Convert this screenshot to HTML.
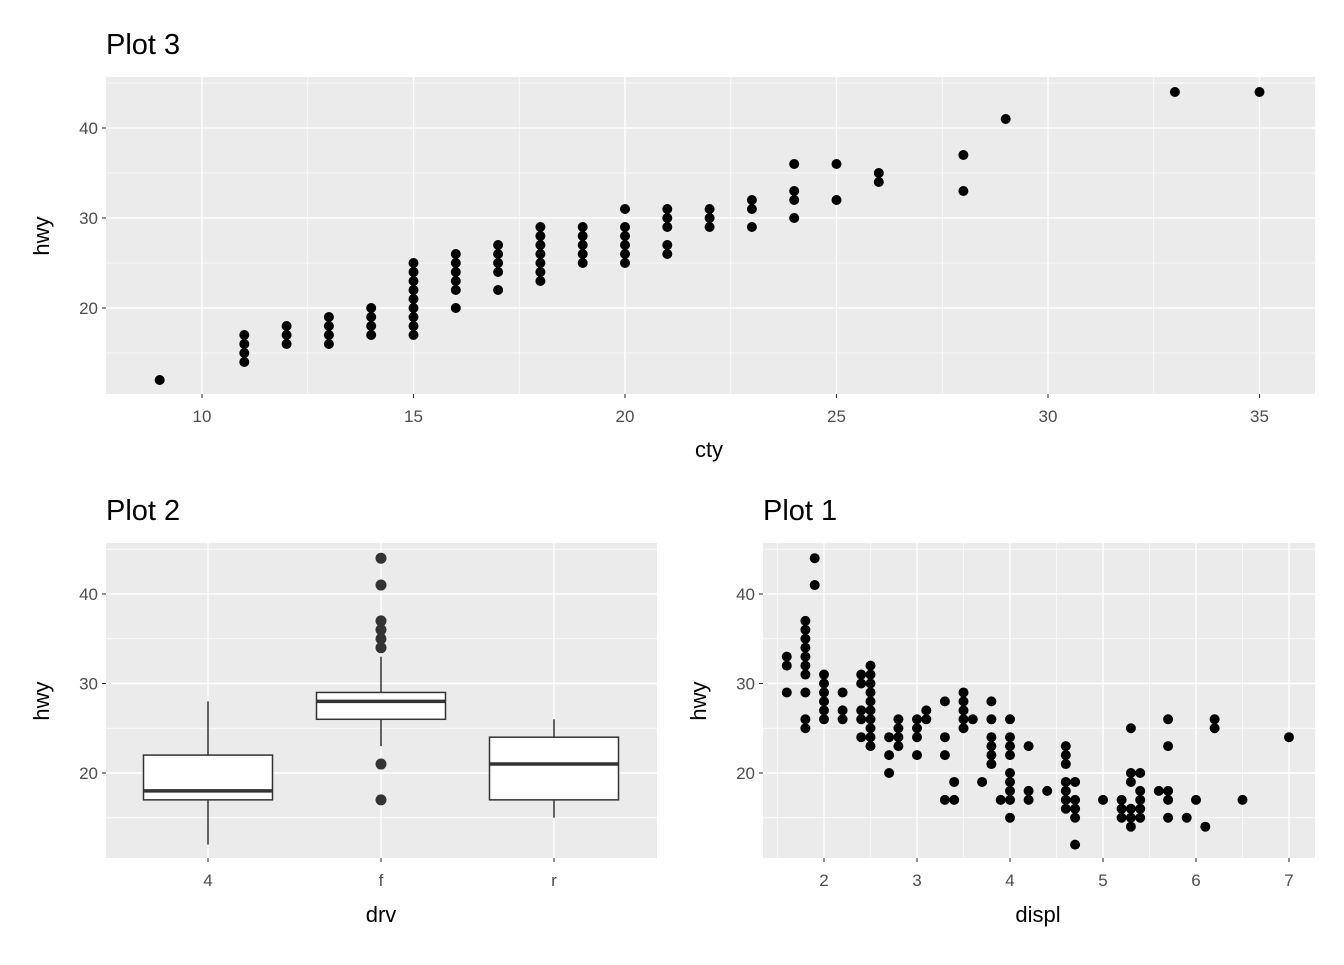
<!DOCTYPE html>
<html><head><meta charset="utf-8"><style>
body{margin:0;background:#fff;font-family:"Liberation Sans",sans-serif}
svg text{font-family:"Liberation Sans",sans-serif}
</style></head><body>
<svg id="s" width="1344" height="960"></svg>
<script>
// Plot 3 data: cty vs hwy
const p3Cty = [9,11,11,11,11,12,12,12,13,13,13,13,14,14,14,14,15,15,15,15,15,15,15,15,15,16,16,16,16,16,16,17,17,17,17,17,18,18,18,18,18,18,18,19,19,19,19,19,20,20,20,20,20,20,21,21,21,21,21,22,22,22,23,23,23,24,24,24,24,25,25,26,26,28,28,29,33,35];
const p3Hwy = [12,14,15,16,17,16,17,18,16,17,18,19,17,18,19,20,17,18,19,20,21,22,23,24,25,20,22,23,24,25,26,22,24,25,26,27,23,24,25,26,27,28,29,25,26,27,28,29,25,26,27,28,29,31,26,27,29,30,31,29,30,31,29,31,32,30,32,33,36,32,36,34,35,33,37,41,44,44];
// Plot 1 data: displ vs hwy
const p1Displ = [1.6,1.6,1.6,1.8,1.8,1.8,1.8,1.8,1.8,1.8,1.8,1.8,1.8,1.9,1.9,2,2,2,2,2,2,2.2,2.2,2.2,2.4,2.4,2.4,2.4,2.4,2.5,2.5,2.5,2.5,2.5,2.5,2.5,2.5,2.5,2.5,2.7,2.7,2.7,2.8,2.8,2.8,2.8,3,3,3,3,3.1,3.1,3.3,3.3,3.3,3.3,3.4,3.4,3.5,3.5,3.5,3.5,3.5,3.6,3.7,3.8,3.8,3.8,3.8,3.8,3.8,3.9,4,4,4,4,4,4,4,4,4,4.2,4.2,4.2,4.4,4.6,4.6,4.6,4.6,4.6,4.6,4.6,4.7,4.7,4.7,4.7,4.7,5,5.2,5.2,5.2,5.3,5.3,5.3,5.3,5.3,5.3,5.4,5.4,5.4,5.4,5.4,5.6,5.7,5.7,5.7,5.7,5.7,5.9,6,6.1,6.2,6.2,6.5,7];
const p1Hwy = [29,32,33,25,26,29,31,32,33,34,35,36,37,41,44,26,27,28,29,30,31,26,27,29,24,26,27,30,31,23,24,25,26,27,28,29,30,31,32,20,22,24,23,24,25,26,22,24,25,26,26,27,17,22,24,28,17,19,25,26,27,28,29,26,19,21,22,23,24,26,28,17,15,17,18,19,20,22,23,24,26,17,18,23,18,16,17,18,19,21,22,23,12,15,16,17,19,17,15,16,17,14,15,16,19,20,25,15,16,17,18,20,18,15,17,18,23,26,15,17,14,25,26,17,24];
// Plot 2 boxplot data
const drvCats = ['4','f','r'];
const boxLow = [12,23,15], boxQ1 = [17,26,17], boxMed = [18,28,21], boxQ3 = [22,29,24], boxHigh = [28,33,26];
const fOutliers = [44,41,37,36,35,34,21,17];

const S=document.getElementById('s'),NS='http://www.w3.org/2000/svg';
function el(t,a,p){const e=document.createElementNS(NS,t);for(const k in a)e.setAttribute(k,a[k]);(p||S).appendChild(e);return e;}
function txt(x,y,s,sz,fill,anchor,p,rot){const e=el('text',{x:x,y:y,'font-size':sz,fill:fill,'text-anchor':anchor||'middle'},p);if(rot)e.setAttribute('transform',`rotate(-90 ${x} ${y})`);e.textContent=s;return e;}

function panel(name,x0,x1,y0,y1){
  const g=el('g',{});
  el('rect',{x:x0,y:y0,width:x1-x0,height:y1-y0,fill:'#EBEBEB'},g);return g;
}
const yTop=v=>308-(v-20)*9.0;
const yBot=v=>773-(v-20)*8.95;

function yAxis(g,ys,x0,x1,ticks,minor){
  minor.forEach(v=>el('line',{x1:x0,x2:x1,y1:ys(v),y2:ys(v),stroke:'#fff','stroke-width':0.7},g));
  ticks.forEach(v=>{el('line',{x1:x0,x2:x1,y1:ys(v),y2:ys(v),stroke:'#fff','stroke-width':1.4},g);
    el('line',{x1:x0-4,x2:x0,y1:ys(v),y2:ys(v),stroke:'#333','stroke-width':1.1});
    txt(x0-8,ys(v)+6,String(v),17,'#4D4D4D','end');});
}
function xAxis(g,xs,y0,y1,ticks,labels,minor){
  minor.forEach(v=>el('line',{x1:xs(v),x2:xs(v),y1:y0,y2:y1,stroke:'#fff','stroke-width':0.7},g));
  ticks.forEach((v,i)=>{el('line',{x1:xs(v),x2:xs(v),y1:y0,y2:y1,stroke:'#fff','stroke-width':1.4},g);
    el('line',{x1:xs(v),x2:xs(v),y1:y1,y2:y1+4,stroke:'#333','stroke-width':1.1});
    txt(xs(v),y1+28,labels[i],17,'#4D4D4D');});
}

// Plot 3
{const xs=v=>202+(v-10)*42.3;
 const g=panel('plot3-panel',106,1315,77,394);
 yAxis(g,yTop,106,1315,[20,30,40],[15,25,35,45]);
 xAxis(g,xs,77,394,[10,15,20,25,30,35],['10','15','20','25','30','35'],[12.5,17.5,22.5,27.5,32.5]);
 p3Cty.forEach((c,i)=>{const d=el('circle',{cx:xs(c),cy:yTop(p3Hwy[i]),r:5,fill:'#000'});
 
 });
 txt(106,54,'Plot 3',29,'#000','start');
 txt(709,457,'cty',22,'#000');
 txt(49,236,'hwy',22,'#000','middle',null,true);
}
// Plot 2
{const xs=i=>208+i*173;
 const g=panel('plot2-panel',106,657,543,858);
 yAxis(g,yBot,106,657,[20,30,40],[15,25,35,45]);
 xAxis(g,xs,543,858,[0,1,2],drvCats,[]);
 drvCats.forEach((c,i)=>{const x=xs(i),w=64.5;
  const b=el('g',{});
  el('line',{x1:x,x2:x,y1:yBot(boxLow[i]),y2:yBot(boxQ1[i]),stroke:'#333','stroke-width':1.5},b);
  el('line',{x1:x,x2:x,y1:yBot(boxHigh[i]),y2:yBot(boxQ3[i]),stroke:'#333','stroke-width':1.5},b);
  el('rect',{x:x-w,y:yBot(boxQ3[i]),width:2*w,height:yBot(boxQ1[i])-yBot(boxQ3[i]),fill:'#fff',stroke:'#333','stroke-width':1.5},b);
  el('line',{x1:x-w,x2:x+w,y1:yBot(boxMed[i]),y2:yBot(boxMed[i]),stroke:'#333','stroke-width':3.5},b);
 });
 fOutliers.forEach(v=>{const d=el('circle',{cx:xs(1),cy:yBot(v),r:5.5,fill:'#333'});
 
 });
 txt(106,520,'Plot 2',29,'#000','start');
 txt(381,922,'drv',22,'#000');
 txt(49,701,'hwy',22,'#000','middle',null,true);
}
// Plot 1
{const xs=v=>824+(v-2)*93;
 const g=panel('plot1-panel',763,1315,543,858);
 yAxis(g,yBot,763,1315,[20,30,40],[15,25,35,45]);
 xAxis(g,xs,543,858,[2,3,4,5,6,7],['2','3','4','5','6','7'],[1.5,2.5,3.5,4.5,5.5,6.5]);
 p1Displ.forEach((c,i)=>{const d=el('circle',{cx:xs(c),cy:yBot(p1Hwy[i]),r:5,fill:'#000'});
 
 });
 txt(763,520,'Plot 1',29,'#000','start');
 txt(1038,922,'displ',22,'#000');
 txt(706,701,'hwy',22,'#000','middle',null,true);
}
</script>
</body></html>
